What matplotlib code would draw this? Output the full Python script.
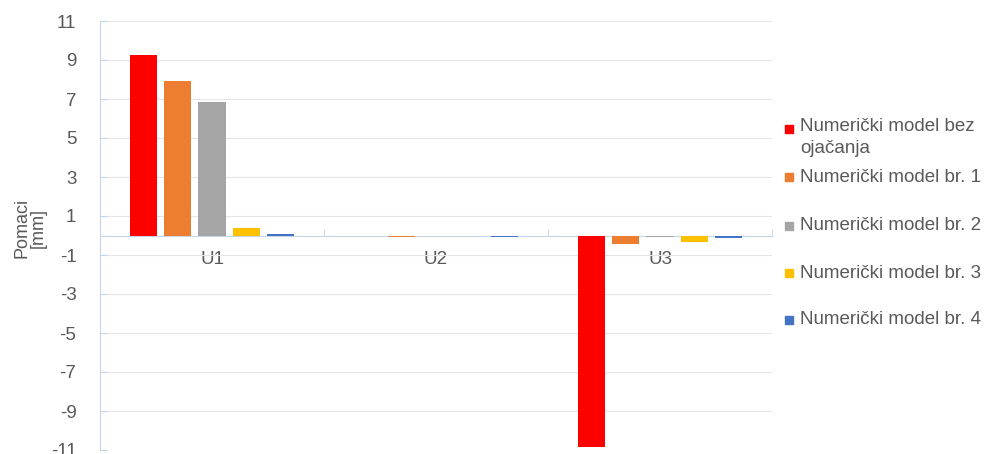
import numpy as np
import matplotlib; matplotlib.use('Agg')
import matplotlib.pyplot as plt
from matplotlib.patches import Rectangle

plt.rcParams['font.family'] = ['Liberation Sans', 'DejaVu Sans']

categories = ['U1', 'U2', 'U3']
series_names = ['Numerički model bez\nojačanja', 'Numerički model br. 1', 'Numerički model br. 2',
                'Numerički model br. 3', 'Numerički model br. 4']
colors = ['#ff0000', '#ed7d31', '#a5a5a5', '#ffc000', '#4472c4']

bez_ojacanja = [9.24, -0.05, -10.85]
model_br1 = [7.91, -0.10, -0.45]
model_br2 = [6.86, -0.05, -0.10]
model_br3 = [0.40, 0.00, -0.32]
model_br4 = [0.10, -0.08, -0.13]
values = [bez_ojacanja, model_br1, model_br2, model_br3, model_br4]

yticks = list(range(-11, 12, 2))
txt = '#595959'
axis_col = '#c5d5ea'

fig = plt.figure(figsize=(9.89, 4.54), dpi=100)
ax = fig.add_axes([100/989, 4/454, 672/989, 429/454])

x = np.arange(len(categories))
pitch, width = 0.153, 0.122
for i, (vals, c) in enumerate(zip(values, colors)):
    ax.bar(x + (i - 2) * pitch, vals, width, color=c, linewidth=0, zorder=3)

ax.set_xlim(-0.5, 2.5)
ax.set_ylim(-11, 11)
ax.set_yticks(yticks)
ax.set_yticklabels([str(t) for t in yticks])
ax.grid(axis='y', color='#e6e6e6', linewidth=0.8, zorder=0)

for s in ['top', 'right']:
    ax.spines[s].set_visible(False)
ax.spines['left'].set_color(axis_col)
ax.spines['bottom'].set_position(('data', 0))
ax.spines['bottom'].set_color(axis_col)
ax.spines['bottom'].set_zorder(2)

ax.set_xticks(x)
ax.set_xticklabels(categories)
ax.set_xticks([-0.5, 0.5, 1.5, 2.5], minor=True)
ax.tick_params(axis='x', which='major', length=0, pad=11, labelsize=13.5, labelcolor=txt)
ax.tick_params(axis='x', which='minor', direction='in', length=5, color=axis_col)
ax.tick_params(axis='y', direction='in', length=5, color=axis_col, pad=17, labelsize=13.5, labelcolor=txt)

ax.set_ylabel('Pomaci\n[mm]', fontsize=13, color=txt, linespacing=1.0, va='center', ha='center')
ax.yaxis.set_label_coords(-0.104, 0.517)

# legend drawn by hand to keep Excel-like row spacing
legend_y = [129, 177, 226, 273, 320]
for name, c, yp in zip(series_names, colors, legend_y):
    yf = 1 - yp / 454
    fig.patches.append(Rectangle((785/989, yf - 4/454), 8/989, 8/454, color=c,
                                 transform=fig.transFigure, figure=fig))
    if '\n' in name:
        fig.text(800/989, yf + 11/454, name, fontsize=13.5, color=txt, va='top', ha='left', linespacing=1.4)
    else:
        fig.text(800/989, yf, name, fontsize=13.5, color=txt, va='center', ha='left')

fig.savefig('out.png', dpi=100)
